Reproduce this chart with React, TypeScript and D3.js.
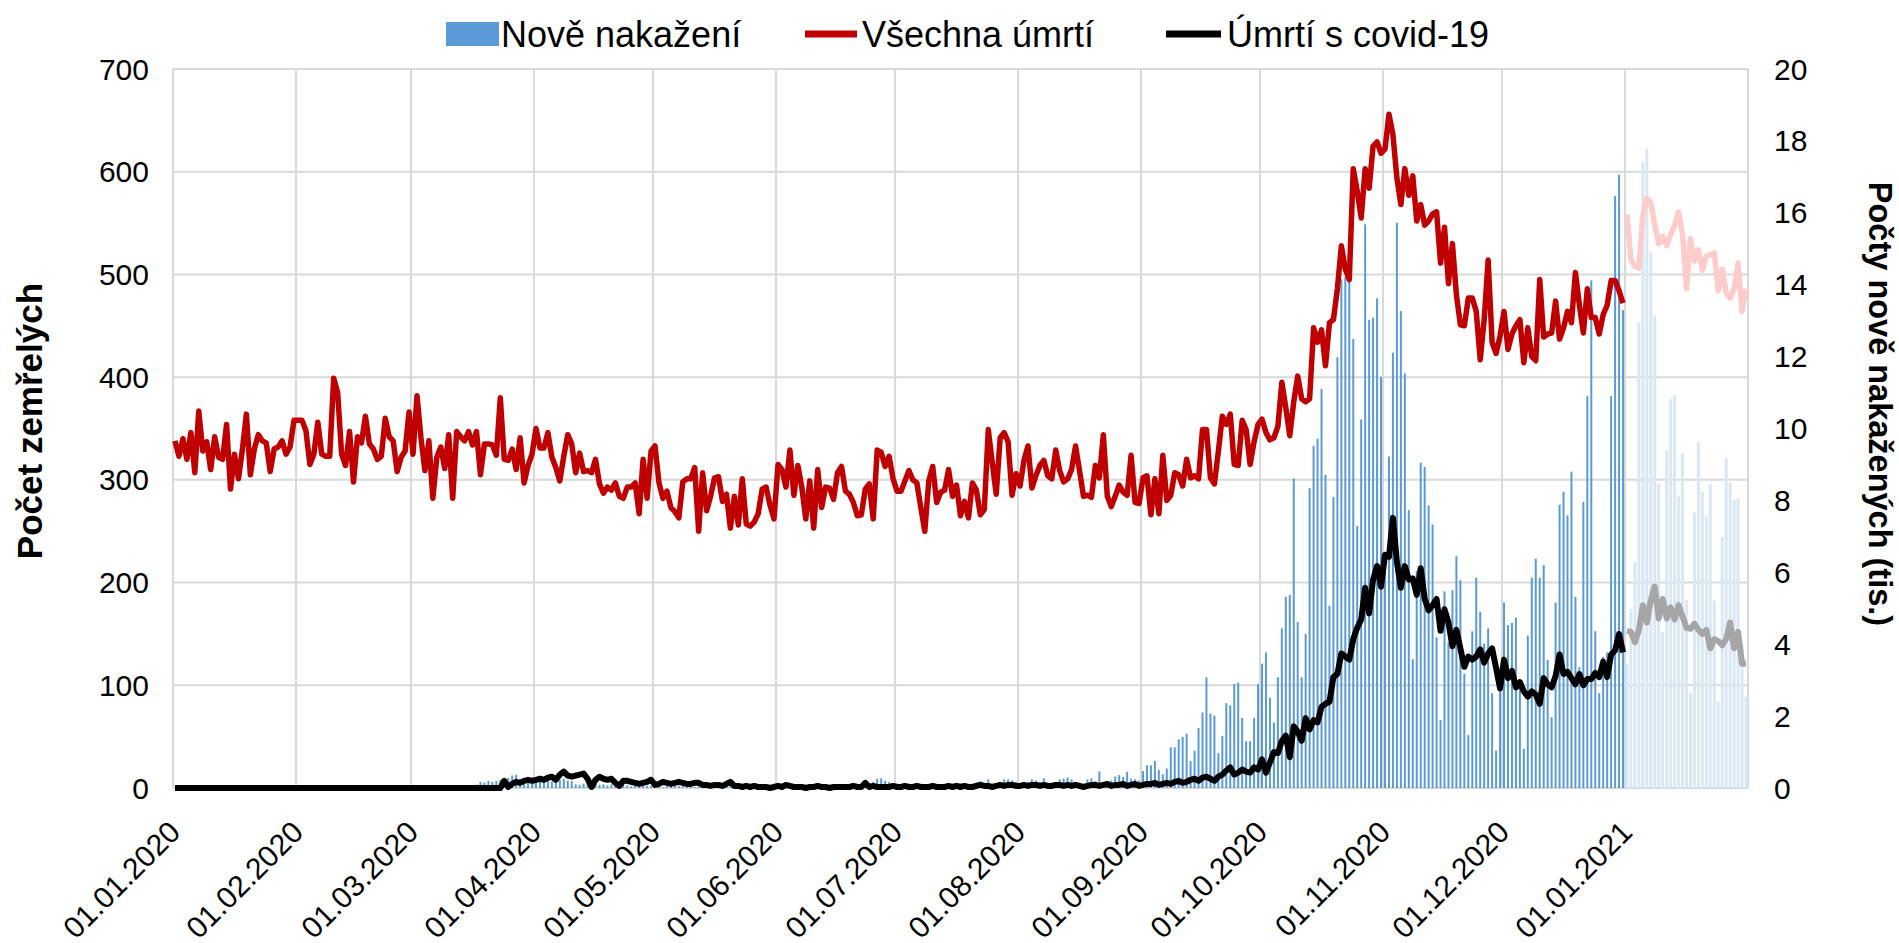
import React from 'react';
import * as d3 from 'd3';

// ---- data ----
// daily values 1.1.2020 – 31.12.2020 (one value per day)
const allDeaths2020 = [
  // Jan
  338, 323, 340, 320, 346, 307, 367, 328, 337, 310, 342, 322, 320, 354, 291, 325, 301, 330, 364, 305, 330, 344, 338, 336, 308, 330, 332, 338, 325, 332, 358,
  // Feb
  358, 358, 348, 315, 325, 356, 325, 323, 323, 399, 385, 325, 314, 347, 298, 342, 336, 362, 335, 330, 320, 323, 360, 342, 338, 308, 322, 328, 366,
  // Mar
  325, 382, 341, 309, 338, 282, 322, 332, 311, 344, 282, 347, 342, 338, 347, 334, 347, 305, 335, 335,
  334, 324, 380, 320, 319, 330, 310, 341, 297, 314, 325,
  // Apr
  350, 331, 331, 346, 322, 312, 299, 323, 344, 335, 307, 326, 308, 309, 307, 320, 296, 287, 293, 290, 297, 284, 282, 293, 293, 297, 267, 320, 282, 328,
  // May
  333, 297, 282, 289, 273, 269, 263, 298, 301, 301, 312, 250, 307, 270, 284, 302, 303, 279, 286, 253, 284, 256, 301, 257, 255, 259, 267, 291, 293, 275, 262,
  // Jun
  315, 310, 293, 329, 285, 314, 293, 262, 299, 253, 310,
  273, 293, 292, 281, 307, 313, 289, 286, 278, 265, 266, 291, 296, 262, 329, 327, 313, 323, 301,
  // Jul
  289, 289, 299, 309, 300, 297, 273, 250, 299, 313, 278, 288, 290, 310, 284, 295, 265, 279, 263, 297, 290, 266, 271, 349, 317, 286, 341, 346, 337, 285, 306,
  // Aug
  294, 319, 333, 292, 304, 314, 319, 304, 301, 329, 309, 298, 301, 310, 333, 309, 284, 285, 283, 314, 302, 344, 284, 274, 284, 295, 288, 285, 324, 278, 277,
  // Sep
  302, 304, 266, 301, 267, 324, 280, 285, 307, 305, 294, 320, 302, 304, 301, 349, 349, 302, 296, 328, 362, 354, 364, 315, 314, 358, 349, 315, 337, 354,
  // Oct
  359, 346, 339, 341, 352, 395, 370, 343,
  376, 401, 379, 376, 379, 448, 434, 446, 411, 453, 456, 486, 528, 505, 495, 603, 581, 555, 603, 584, 625, 629, 618,
  // Nov
  622, 656, 636, 594, 568, 603, 577, 596, 552, 568, 548, 552, 559, 561, 511, 546,
  491, 530, 480, 451, 450, 477, 477, 464, 417, 456, 514, 434, 423, 440,
  // Dec
  464, 427, 442, 450, 456, 414, 448, 420, 416, 495, 439, 442, 443, 474, 437, 448, 464, 453, 502, 470, 443, 486, 458, 458, 442,
  461, 470, 494, 494, 484, 472,
];

const covidDeaths2020 = [
  // Jan
  0, 0, 0, 0, 0, 0, 0, 0, 0, 0, 0, 0, 0, 0, 0, 0, 0, 0, 0, 0, 0, 0, 0, 0, 0, 0, 0, 0, 0, 0, 0,
  // Feb
  0, 0, 0, 0, 0, 0, 0, 0, 0, 0, 0, 0, 0, 0, 0, 0, 0, 0, 0, 0, 0, 0, 0, 0, 0, 0, 0, 0, 0,
  // Mar
  0, 0, 0, 0, 0, 0, 0, 0, 0, 0, 0, 0, 0, 0, 0, 0, 0, 0, 0, 0, 0, 0, 0, 7, 1, 4, 6, 5, 7, 8, 7,
  // Apr
  8, 9, 8, 10, 11, 8, 13, 16, 12, 11, 12, 13, 14, 9, 1, 8, 11, 9, 8, 9, 5, 2, 7, 7, 6, 5, 4, 5, 6, 8,
  // May
  3, 4, 6, 5, 4, 5, 6, 5, 4, 4, 5, 5, 3, 3, 2, 3, 3, 2, 4, 6, 2, 2, 1, 2, 1, 2, 1, 1, 1, 0, 1,
  // Jun
  2, 1, 3, 2, 1, 1, 1, 0, 1, 1, 2, 1, 1, 0, 1, 1, 1, 1, 1, 2, 1, 1, 5, 1, 2, 1, 1, 1, 1, 2,
  // Jul
  1, 1, 2, 1, 1, 2, 1, 1, 1, 2, 1, 1, 1, 2, 1, 2, 1, 2, 1, 1, 2, 3, 2, 2, 1, 2, 3, 2, 3, 3, 2,
  // Aug
  2, 3, 2, 3, 3, 2, 3, 2, 2, 3, 3, 2, 3, 2, 3, 2, 1, 2, 3, 3, 2, 3, 4, 2, 3, 3, 4, 2, 3, 4, 2,
  // Sep
  3, 4, 4, 5, 3, 4, 5, 4, 6, 7, 5, 6, 8, 9, 7, 10, 11, 9, 7, 11, 13, 17, 20, 13, 15, 18, 16, 15, 20, 18,
  // Oct
  28, 15, 25, 35, 34, 46, 51, 30,
  60, 55, 46, 68, 57, 66, 64, 79, 82, 84, 108, 111, 131, 128, 125, 145, 156, 164, 195, 170, 203, 216, 196,
  // Nov
  227, 225, 263, 220, 195, 216, 203, 204, 188, 214, 184, 173, 178, 184, 153, 174,
  161, 138, 154, 136, 118, 128, 125, 128, 135, 122, 131, 136, 117, 97,
  // Dec
  125, 107, 114, 98, 103, 94, 89, 94, 91, 82, 107, 101, 98, 109, 130, 111, 113, 107, 101, 111, 100, 106, 106, 112, 108,
  123, 108, 130, 134, 150, 132,
];

// new infections, thousands
const newCases2020 = [
  // Jan
  0, 0, 0, 0, 0, 0, 0, 0, 0, 0, 0, 0, 0, 0, 0, 0, 0, 0, 0, 0, 0, 0, 0, 0, 0, 0, 0, 0, 0, 0, 0,
  // Feb
  0, 0, 0, 0, 0, 0, 0, 0, 0, 0, 0, 0, 0, 0, 0, 0, 0, 0, 0, 0, 0, 0, 0, 0, 0, 0, 0, 0, 0,
  // Mar
  0, 0.003, 0, 0.002, 0.003, 0.007, 0.007, 0.006, 0.01, 0.009, 0.025, 0.025, 0.05, 0.072, 0.045, 0.083, 0.096, 0.17, 0.15, 0.2, 0.17, 0.2, 0.23, 0.26, 0.28, 0.35, 0.37, 0.25, 0.22, 0.26, 0.29,
  // Apr
  0.25, 0.29, 0.25, 0.2, 0.18, 0.15, 0.23, 0.26, 0.2, 0.19, 0.1, 0.09, 0.12, 0.16, 0.12, 0.11, 0.09, 0.1, 0.07, 0.1, 0.09, 0.11, 0.08, 0.07, 0.05, 0.06, 0.08, 0.07, 0.06, 0.06,
  // May
  0.04, 0.03, 0.02, 0.05, 0.07, 0.06, 0.06, 0.05, 0.03, 0.03, 0.03, 0.05, 0.07, 0.05, 0.07, 0.04, 0.03, 0.09, 0.07, 0.07, 0.09, 0.06, 0.04, 0.04, 0.06, 0.05, 0.05, 0.05, 0.04, 0.04, 0.03,
  // Jun
  0.03, 0.06, 0.08, 0.09, 0.05, 0.06, 0.03, 0.07, 0.05, 0.05, 0.07, 0.04, 0.03, 0.05, 0.07, 0.06, 0.08, 0.07, 0.06, 0.05, 0.05, 0.05, 0.04, 0.07, 0.17, 0.26, 0.27, 0.2, 0.16, 0.14,
  // Jul
  0.12, 0.1, 0.14, 0.08, 0.05, 0.07, 0.11, 0.1, 0.1, 0.12, 0.08, 0.06, 0.09, 0.13, 0.09, 0.11, 0.12, 0.09, 0.1, 0.12, 0.16, 0.19, 0.14, 0.24, 0.05, 0.08, 0.14, 0.24, 0.24, 0.21, 0.17,
  // Aug
  0.1, 0.05, 0.16, 0.24, 0.21, 0.16, 0.27, 0.11, 0.05, 0.08, 0.24, 0.26, 0.29, 0.24, 0.14, 0.07, 0.05, 0.24, 0.27, 0.19, 0.46, 0.16, 0.08, 0.21, 0.32, 0.36, 0.31, 0.45, 0.26, 0.24, 0.21,
  // Sep
  0.47, 0.63, 0.63, 0.75, 0.5, 0.38, 0.54, 1.13, 1.13, 1.35, 1.42, 1.51, 0.75, 1.04, 1.67, 2.1, 3.08, 2.07, 2.01, 0.97, 1.45, 2.36, 2.3, 2.89, 2.93, 1.95, 1.3, 1.3, 1.95, 2.89,
  // Oct
  3.46, 3.77, 2.51, 1.82, 3.08, 4.44, 5.32, 5.37, 8.61, 4.62, 3.08, 4.28, 8.34, 9.52, 9.72, 11.1, 8.71, 5.07, 8.09, 11.98, 14.15, 14.21, 14.15, 12.49, 7.29, 10.25, 15.68, 13.02, 13.08, 13.62, 11.44,
  // Nov
  6.48, 9.22, 12.11, 15.72, 13.27, 11.53, 7.73, 3.58, 6.04, 9.05, 8.93, 7.86, 7.33, 4.19, 1.89, 5.47, 4.06, 5.5, 6.45, 5.78, 3.18, 1.47, 4.36, 5.85, 4.9, 4.02, 4.44, 2.64, 1.04, 2.8,
  // Dec
  5.16, 4.53, 4.59, 4.74, 2.8, 1.09, 4.24, 5.85, 6.38, 5.85, 6.2, 3.56, 1.97, 5.16, 7.88, 8.24, 7.58, 8.8, 5.32, 3.36, 7.96, 10.9, 14.12, 4.36, 2.64, 3.65, 3.77, 10.9, 16.47, 17.06, 13.29,
];

// January 2021, drawn in lighter colours
const allDeaths2021 = [558, 514, 508, 506, 557, 574, 570, 548, 530, 537, 528, 539, 548, 561, 539, 486, 535, 513, 524, 504, 518, 519, 521, 484, 505, 482, 477, 486, 511, 464, 486];
const covidDeaths2021 = [153, 152, 142, 154, 178, 161, 183, 196, 165, 184, 165, 176, 164, 178, 167, 156, 155, 160, 154, 150, 154, 136, 145, 143, 139, 145, 161, 136, 152, 121, 121];
const newCases2021 = [3.46, 4.99, 6.29, 12.95, 17.42, 17.79, 14.9, 13.14, 8.46, 4.34, 9.39, 10.81, 10.93, 8.11, 9.31, 5.24, 2.64, 7.67, 9.62, 8.24, 7.55, 8.46, 5.22, 2.39, 6.98, 9.18, 8.51, 8.01, 8.05, 4.0, 2.54];

const leftTicks = [0, 100, 200, 300, 400, 500, 600, 700];
const rightTicks = [0, 2, 4, 6, 8, 10, 12, 14, 16, 18, 20];
const legendLabels = ['Nově nakažení', 'Všechna úmrtí', 'Úmrtí s covid-19'];
const leftTitle = 'Počet zemřelých';
const rightTitle = 'Počty nově nakažených (tis.)';

const W = 1899;
const H = 943;
const plot = { left: 173, right: 1748, top: 69, bottom: 788 };
const FONT = "'Liberation Sans', Arial, sans-serif";

const dayOf = (year: number, i: number) => new Date(Date.UTC(year, 0, 1 + i, 12));

export default function App() {
  const x = d3
    .scaleUtc()
    .domain([new Date(Date.UTC(2020, 0, 1)), new Date(Date.UTC(2021, 1, 1))])
    .range([plot.left, plot.right]);
  const yL = d3.scaleLinear().domain([0, 700]).range([plot.bottom, plot.top]);
  const yR = d3.scaleLinear().domain([0, 20]).range([plot.bottom, plot.top]);

  const months = d3.utcMonth.range(new Date(Date.UTC(2020, 0, 1)), new Date(Date.UTC(2021, 1, 2)));
  const fmt = d3.utcFormat('%d.%m.%Y');

  const line2020 = d3
    .line<number>()
    .x((_, i) => x(dayOf(2020, i)))
    .y((d) => yL(d));
  const line2021 = d3
    .line<number>()
    .x((_, i) => x(dayOf(2021, i)))
    .y((d) => yL(d));

  return (
    <svg width={W} height={H} style={{ position: 'absolute', left: 0, top: 0, background: '#fff' }} fontFamily={FONT}>
      {/* grid */}
      {leftTicks.map((t) => (
        <line key={'h' + t} x1={plot.left} x2={plot.right} y1={yL(t)} y2={yL(t)} stroke="#d9d9d9" strokeWidth={2} />
      ))}
      {months.map((m) => (
        <line key={'v' + m.getTime()} x1={x(m)} x2={x(m)} y1={plot.top} y2={plot.bottom} stroke="#d9d9d9" strokeWidth={2} />
      ))}

      {/* bars */}
      {newCases2020.map((v, i) =>
        v > 0 ? (
          <rect key={'b' + i} x={x(dayOf(2020, i)) - 1} width={2} y={yR(v)} height={plot.bottom - yR(v)} fill="#5b9bd5" />
        ) : null
      )}
      {newCases2021.map((v, i) => (
        <rect key={'c' + i} x={x(dayOf(2021, i)) - 1.5} width={3} y={yR(v)} height={plot.bottom - yR(v)} fill="#dae8f6" />
      ))}

      {/* lines */}
      <path d={line2020(allDeaths2020) || ''} fill="none" stroke="#c00000" strokeWidth={5.5} strokeLinejoin="round" />
      <path d={line2021(allDeaths2021) || ''} fill="none" stroke="#ffcccc" strokeWidth={5.5} strokeLinejoin="round" />
      <path d={line2021(covidDeaths2021) || ''} fill="none" stroke="#a6a6a6" strokeWidth={6} strokeLinejoin="round" />
      <path d={line2020(covidDeaths2020) || ''} fill="none" stroke="#000" strokeWidth={6} strokeLinejoin="round" />

      {/* left axis */}
      {leftTicks.map((t) => (
        <text key={'l' + t} x={149} y={yL(t) + 10.5} textAnchor="end" fontSize={30}>
          {t}
        </text>
      ))}
      {/* right axis */}
      {rightTicks.map((t) => (
        <text key={'r' + t} x={1774} y={yR(t) + 10.5} textAnchor="start" fontSize={30}>
          {t}
        </text>
      ))}
      {/* date labels */}
      {months.slice(0, -1).map((m) => (
        <text
          key={'d' + m.getTime()}
          transform={`translate(${x(m) + 9},${834}) rotate(-45)`}
          textAnchor="end"
          fontSize={30}
        >
          {fmt(m)}
        </text>
      ))}

      {/* axis titles */}
      <text transform={`translate(42,421) rotate(-90)`} textAnchor="middle" fontSize={35} fontWeight="bold">
        {leftTitle}
      </text>
      <text transform={`translate(1869,404) rotate(90)`} textAnchor="middle" fontSize={32.5} fontWeight="bold">
        {rightTitle}
      </text>

      {/* legend */}
      <rect x={446} y={22} width={53} height={24} fill="#5b9bd5" />
      <text x={501} y={47} fontSize={36}>
        {legendLabels[0]}
      </text>
      <line x1={805} x2={857} y1={34} y2={34} stroke="#c00000" strokeWidth={7} />
      <text x={862} y={47} fontSize={36}>
        {legendLabels[1]}
      </text>
      <line x1={1166} x2={1221} y1={34} y2={34} stroke="#000" strokeWidth={7} />
      <text x={1227} y={47} fontSize={36}>
        {legendLabels[2]}
      </text>
    </svg>
  );
}
